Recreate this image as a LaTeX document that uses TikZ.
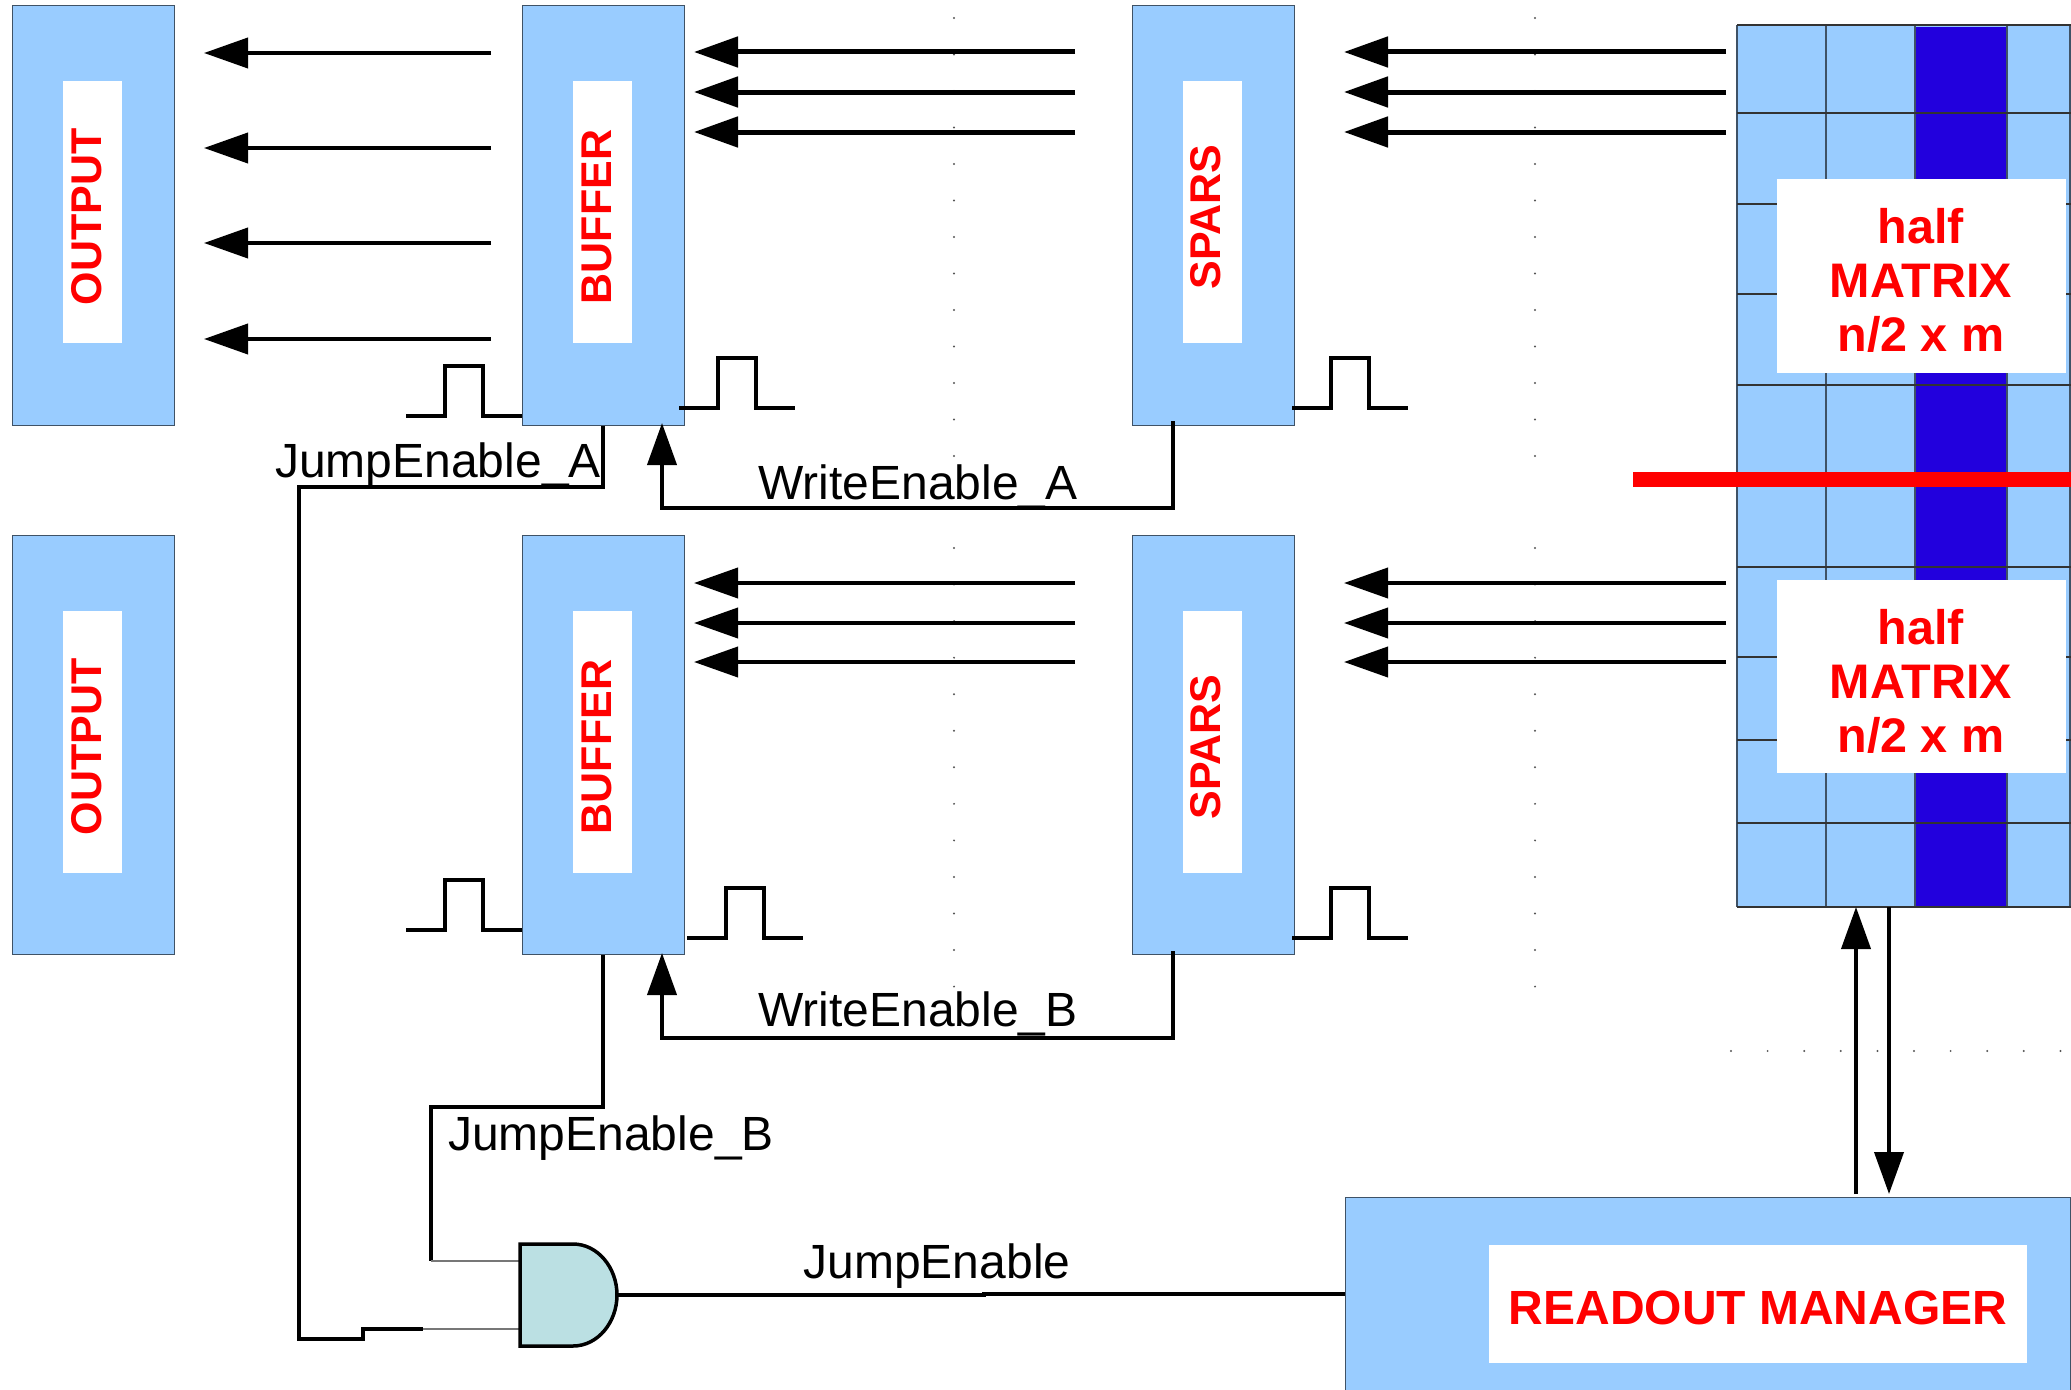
\documentclass[tikz,border=0pt]{standalone}
\usepackage{fontspec}
\setmainfont{Liberation Sans}
\definecolor{blockblue}{HTML}{99CCFF}
\definecolor{columnblue}{HTML}{2200DD}
\definecolor{gridedge}{HTML}{3F5266}
\definecolor{gatefill}{HTML}{BBE0E3}
\definecolor{thinwire}{HTML}{777777}
\definecolor{dotgrey}{HTML}{555555}
\usetikzlibrary{arrows.meta}
\tikzset{
  blockbox/.style={draw=gridedge, line width=1pt, fill=blockblue, inner sep=0pt,
                   minimum width=162pt, minimum height=419pt},
  whitebox/.style={fill=white, inner sep=0pt, minimum width=59pt, minimum height=262pt},
  vlabel/.style={rotate=90, anchor=base, inner sep=0pt, text=red,
                 font=\fontsize{43}{43}\selectfont\bfseries},
  hlabel/.style={anchor=base, inner sep=0pt, text=red,
                 font=\fontsize{48.5}{54}\selectfont\bfseries},
  siglabel/.style={anchor=base, inner sep=0pt, font=\fontsize{48}{54}\selectfont},
  buswire/.style={line width=5pt, -{Triangle[length=44pt,width=30pt]}},
  sigwire/.style={line width=4pt, -{Triangle[length=42pt,width=29pt]}},
  plainwire/.style={line width=3.5pt},
  hairwire/.style={line width=1.2pt, thinwire},
  gatebody/.style={draw=black, line width=3.5pt, fill=gatefill},
}
\newcommand{\pulseUp}[3]{% x-start, y-low, y-high
  \draw[line width=3.5pt] (#1,#2) -- (#1+39,#2) -- (#1+39,#3) -- (#1+77,#3)
    -- (#1+77,#2) -- (#1+116,#2);
}
\newcommand{\busArrows}[4]{% x-tail, x-tip, y-list, width
  \foreach \yy in {#3} {
    \coordinate (tail) at (#1,\yy);
    \coordinate (tip) at (#2,\yy);
    \draw[buswire, line width=#4] (tail) -- (tip);
  }
}
\begin{document}
\begin{tikzpicture}[x=1pt, y=-1pt]
  \useasboundingbox (0,0) rectangle (2071,1389);

  % faint dots
  \foreach \x in {954,1535} {
    \foreach \i in {0,...,12} {
      \fill[dotgrey] (\x,{18+36.5*\i}) circle (1.1pt);
      \fill[dotgrey] (\x,{548+36.55*\i}) circle (1.1pt);
    }
  }
  \foreach \i in {0,...,9} {
    \fill[dotgrey] ({1731+36.6*\i},1051) circle (1.1pt);
  }

  % blocks, upper row
  \node[blockbox] (outA) at (93,215.5) {};
  \node[blockbox] (bufA) at (603,215.5) {};
  \node[blockbox] (sparsA) at (1213,215.5) {};
  \node[whitebox] (outAbox) at (92.5,212) {};
  \node[whitebox] (bufAbox) at (602,212) {};
  \node[whitebox] (sparsAbox) at (1212,212) {};
  \node[vlabel] (outAtxt) at (101,217) {OUTPUT};
  \node[vlabel] (bufAtxt) at (611,217) {BUFFER};
  \node[vlabel] (sparsAtxt) at (1220,217) {SPARS};

  % blocks, lower row
  \node[blockbox] (outB) at (93,745) {};
  \node[blockbox] (bufB) at (603,745) {};
  \node[blockbox] (sparsB) at (1213,745) {};
  \node[whitebox] (outBbox) at (92.5,741.5) {};
  \node[whitebox] (bufBbox) at (602,741.5) {};
  \node[whitebox] (sparsBbox) at (1212,741.5) {};
  \node[vlabel] (outBtxt) at (101,747) {OUTPUT};
  \node[vlabel] (bufBtxt) at (611,747) {BUFFER};
  \node[vlabel] (sparsBtxt) at (1220,747) {SPARS};

  % half matrix
  \fill[blockblue] (1737,25) rectangle (2070,907);
  \fill[columnblue] (1915,27) rectangle (2007,907);
  \foreach \x in {1737,1826,1915,2007,2070} {
    \draw[gridedge, line width=1.5pt] (\x,25) -- (\x,907);
  }
  \foreach \y in {25,113,204,294,385,476,567,657,740,823,907} {
    \draw[black!80, line width=1.2pt] (1737,\y) -- (2071,\y);
  }
  \node[fill=white, inner sep=0pt, minimum width=289pt, minimum height=194pt]
    (matAbox) at (1921.5,276) {};
  \node[fill=white, inner sep=0pt, minimum width=289pt, minimum height=193pt]
    (matBbox) at (1921.5,676.5) {};
  \node[hlabel, anchor=center, align=center] (matAtxt) at (1921,280) {half\\MATRIX\\n/2 x m};
  \node[hlabel, anchor=center, align=center] (matBtxt) at (1921,681) {half\\MATRIX\\n/2 x m};
  \fill[red] (1633,472) rectangle (2071,487);

  % readout manager
  \node[blockbox, minimum width=725pt, minimum height=194pt] (rdm) at (1707.5,1294) {};
  \node[fill=white, inner sep=0pt, minimum width=538pt, minimum height=118pt]
    (rdmbox) at (1758,1304) {};
  \node[hlabel, font=\fontsize{48}{54}\selectfont\bfseries] (rdmtxt) at (1758,1324) {READOUT MANAGER};

  % data lines
  \busArrows{491}{204}{53,148,243,339}{4pt}
  \busArrows{1075}{694}{52,92,132}{5pt}
  \busArrows{1726}{1344}{52,92,132}{5pt}
  \busArrows{1075}{694}{583,623,662}{4pt}
  \busArrows{1726}{1344}{583,623,662}{4pt}

  % matrix <-> manager
  \coordinate (upFoot) at (1856,1194);
  \coordinate (upTip) at (1856,907);
  \coordinate (dnTop) at (1889,907);
  \coordinate (dnTip) at (1889,1194);
  \draw[sigwire] (upFoot) -- (upTip);
  \draw[sigwire] (dnTop) -- (dnTip);

  % pulses
  \pulseUp{406}{416}{366}
  \pulseUp{679}{408}{358}
  \pulseUp{1292}{408}{358}
  \pulseUp{406}{930}{880}
  \pulseUp{687}{938}{888}
  \pulseUp{1292}{938}{888}

  % write enables
  \coordinate (wAtop) at (1173,421);
  \coordinate (wAcorner) at (1173,508);
  \coordinate (wAtip) at (662,423);
  \draw[sigwire] (wAtop) -- (wAcorner) -| (wAtip);
  \coordinate (wBtop) at (1173,951);
  \coordinate (wBcorner) at (1173,1038);
  \coordinate (wBtip) at (662,953);
  \draw[sigwire] (wBtop) -- (wBcorner) -| (wBtip);

  % jump enables
  \coordinate (jAcorner) at (299,487);
  \coordinate (jAfoot) at (299,1339);
  \coordinate (jAstep) at (363,1339);
  \coordinate (jAstepTop) at (363,1329);
  \coordinate (jAend) at (423,1329);
  \coordinate (jAgate) at (521,1329);
  \draw[plainwire] (bufA.south) |- (jAcorner) -- (jAfoot) -- (jAstep) -- (jAstepTop) -- (jAend);
  \draw[hairwire] (jAend) -- (jAgate);
  \coordinate (jBcorner) at (431,1107);
  \coordinate (jBfoot) at (431,1261);
  \coordinate (jBgate) at (521,1261);
  \draw[plainwire] (bufB.south) |- (jBcorner) -- (jBfoot);
  \draw[hairwire] (jBfoot) -- (jBgate);

  % and gate
  \draw[gatebody] (520,1244) -- (573,1244) .. controls (598,1244) and (617,1268) .. (617,1295)
    .. controls (617,1322) and (598,1346) .. (573,1346) -- (520,1346) -- cycle;
  \coordinate (gateOut) at (617,1295);
  \coordinate (gateJog) at (984,1295);
  \coordinate (rdmJog) at (984,1294);
  \draw[plainwire] (gateOut) -- (gateJog) -- (rdmJog) -- (rdm.west);

  % signal names
  \node[siglabel] (jAtxt) at (438,477) {JumpEnable\_A};
  \node[siglabel] (wAtxt) at (918,499) {WriteEnable\_A};
  \node[siglabel] (wBtxt) at (918,1026) {WriteEnable\_B};
  \node[siglabel] (jBtxt) at (611,1150) {JumpEnable\_B};
  \node[siglabel] (jtxt) at (937,1278) {JumpEnable};
\end{tikzpicture}
\end{document}
